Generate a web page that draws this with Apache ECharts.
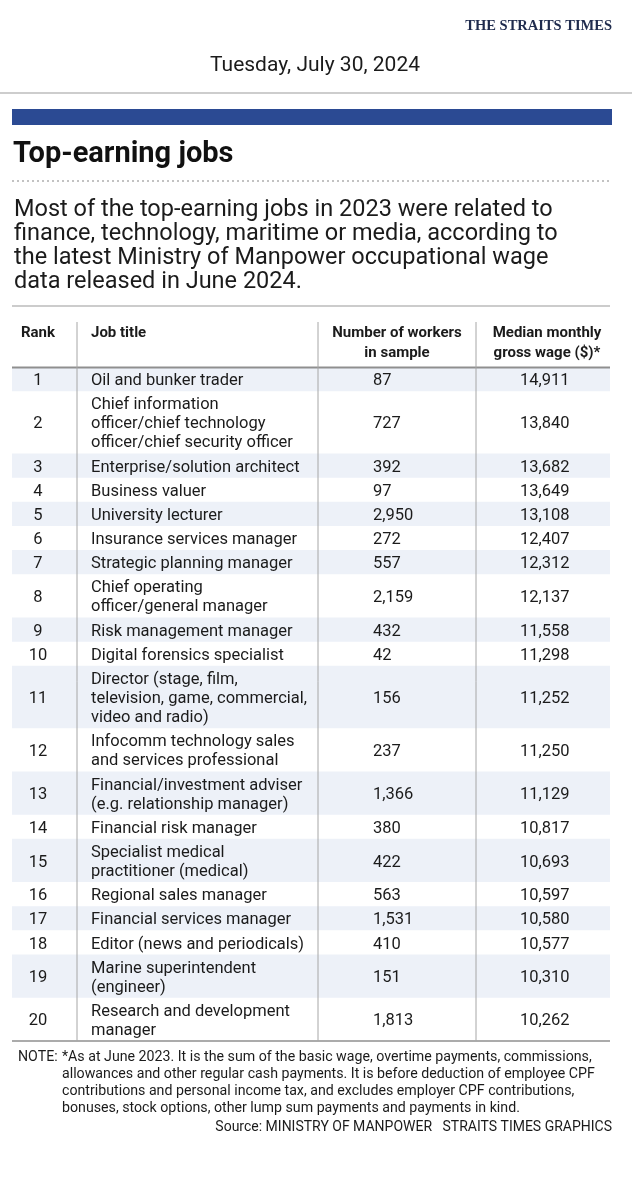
<!DOCTYPE html>
<html>
<head>
<meta charset="utf-8">
<script src="https://cdn.jsdelivr.net/npm/echarts@6/dist/echarts.min.js"></script>
<style>
html,body{margin:0;padding:0;background:#fff;}
#chart{width:632px;height:1183px;}
</style>
</head>
<body>
<div id="chart"></div>
<script>
// ---- Data ----
const ranks = ['1','2','3','4','5','6','7','8','9','10','11','12','13','14','15','16','17','18','19','20'];
const jobTitles = [
  'Oil and bunker trader',
  'Chief information\nofficer/chief technology\nofficer/chief security officer',
  'Enterprise/solution architect',
  'Business valuer',
  'University lecturer',
  'Insurance services manager',
  'Strategic planning manager',
  'Chief operating\nofficer/general manager',
  'Risk management manager',
  'Digital forensics specialist',
  'Director (stage, film,\ntelevision, game, commercial,\nvideo and radio)',
  'Infocomm technology sales\nand services professional',
  'Financial/investment adviser\n(e.g. relationship manager)',
  'Financial risk manager',
  'Specialist medical\npractitioner (medical)',
  'Regional sales manager',
  'Financial services manager',
  'Editor (news and periodicals)',
  'Marine superintendent\n(engineer)',
  'Research and development\nmanager'
];
const workers = [87, 727, 392, 97, 2950, 272, 557, 2159, 432, 42, 156, 237, 1366, 380, 422, 563, 1531, 410, 151, 1813];
const wages = [14911, 13840, 13682, 13649, 13108, 12407, 12312, 12137, 11558, 11298, 11252, 11250, 11129, 10817, 10693, 10597, 10580, 10577, 10310, 10262];
const headers = ['Rank', 'Job title', 'Number of workers\nin sample', 'Median monthly\ngross wage ($)*'];

const headline = 'Top-earning jobs';
const subtitle = 'Most of the top-earning jobs in 2023 were related to\nfinance, technology, maritime or media, according to\nthe latest Ministry of Manpower occupational wage\ndata released in June 2024.';
const noteText = '*As at June 2023. It is the sum of the basic wage, overtime payments, commissions,\nallowances and other regular cash payments. It is before deduction of employee CPF\ncontributions and personal income tax, and excludes employer CPF contributions,\nbonuses, stock options, other lump sum payments and payments in kind.';
const sourceText = 'Source: MINISTRY OF MANPOWER   STRAITS TIMES GRAPHICS';
const dateText = 'Tuesday, July 30, 2024';
const brandText = 'THE STRAITS TIMES';

// ---- Layout helpers (row extents derived from the number of text lines) ----
const LINE = 19, PAD = 5;
const rows = [];
let acc = 0;
jobTitles.forEach((t, i) => {
  const h = PAD + LINE * t.split('\n').length;
  rows.push([i, acc, acc + h]);
  acc += h;
});
const TOTAL = acc;
const XMAX = 598;
const COL = { rank: 26, title: 79, workers: 361, wage: 508 };

const FONT = 'Roboto, "Noto Sans", sans-serif';
const TXT = '#1b1b1b';

function renderItem(params, api) {
  const i = api.value(0);
  const p0 = api.coord([0, api.value(1)]);
  const p1 = api.coord([XMAX, api.value(2)]);
  const yc = (p0[1] + p1[1]) / 2 + 2;
  const children = [];
  if (i % 2 === 0) {
    children.push({ type: 'rect', shape: { x: p0[0], y: p0[1], width: p1[0] - p0[0], height: p1[1] - p0[1] }, style: { fill: '#edf1f8' } });
  }
  const base = { fill: TXT, fontFamily: FONT, fontSize: 16.5, verticalAlign: 'middle', lineHeight: LINE };
  children.push({ type: 'text', style: Object.assign({}, base, { text: ranks[i], x: api.coord([COL.rank, 0])[0], y: yc, align: 'center' }) });
  children.push({ type: 'text', style: Object.assign({}, base, { text: jobTitles[i], x: api.coord([COL.title, 0])[0], y: yc, align: 'left' }) });
  children.push({ type: 'text', style: Object.assign({}, base, { text: workers[i].toLocaleString('en-US'), x: api.coord([COL.workers, 0])[0], y: yc, align: 'left' }) });
  children.push({ type: 'text', style: Object.assign({}, base, { text: wages[i].toLocaleString('en-US'), x: api.coord([COL.wage, 0])[0], y: yc, align: 'left' }) });
  return { type: 'group', children: children };
}

const chart = echarts.init(document.getElementById('chart'), null, { renderer: 'canvas' });
const LINEC = '#a6a6a6';
const hdr = { fill: TXT, fontFamily: FONT, fontWeight: 'bold', fontSize: 15, lineHeight: 20 };

chart.setOption({
  backgroundColor: '#ffffff',
  animation: false,
  grid: { left: 12, right: 22, top: 367, bottom: 142 },
  xAxis: { type: 'value', min: 0, max: XMAX, show: false },
  yAxis: { type: 'value', min: 0, max: TOTAL, inverse: true, show: false },
  series: [{
    type: 'custom',
    renderItem: renderItem,
    data: rows,
    encode: { x: -1, y: [1, 2] },
    z: 2
  }],
  graphic: [
    { type: 'text', right: 20, top: 19, z: 10, style: { text: brandText, fill: '#1f2b4d', font: 'bold 14.5px "Liberation Serif", "DejaVu Serif", serif' } },
    { type: 'text', x: 315, y: 66, z: 10, style: { text: dateText, fill: TXT, fontFamily: FONT, fontSize: 21, align: 'center', verticalAlign: 'middle' } },
    { type: 'line', z: 10, shape: { x1: 0, y1: 93, x2: 632, y2: 93 }, style: { stroke: '#9c9c9c', lineWidth: 1.2 } },
    { type: 'rect', z: 10, shape: { x: 12, y: 109, width: 600, height: 16 }, style: { fill: '#2b4a93' } },
    { type: 'text', x: 13, y: 155, z: 10, style: { text: headline, fill: '#111', fontFamily: FONT, fontWeight: 'bold', fontSize: 29, verticalAlign: 'middle' } },
    { type: 'line', z: 10, shape: { x1: 12, y1: 181, x2: 610, y2: 181 }, style: { stroke: '#c2c2c2', lineWidth: 2, lineDash: [2, 3] } },
    { type: 'text', x: 14, y: 246, z: 10, style: { text: subtitle, fill: TXT, fontFamily: FONT, fontSize: 23.5, lineHeight: 24, verticalAlign: 'middle' } },
    { type: 'line', z: 10, shape: { x1: 12, y1: 306, x2: 610, y2: 306 }, style: { stroke: '#cccccc', lineWidth: 2 } },
    // column headers
    { type: 'text', x: 38, y: 333, z: 10, style: Object.assign({}, hdr, { text: headers[0], align: 'center', verticalAlign: 'middle' }) },
    { type: 'text', x: 91, y: 333, z: 10, style: Object.assign({}, hdr, { text: headers[1], align: 'left', verticalAlign: 'middle' }) },
    { type: 'text', x: 397, y: 343, z: 10, style: Object.assign({}, hdr, { text: headers[2], align: 'center', verticalAlign: 'middle' }) },
    { type: 'text', x: 547, y: 343, z: 10, style: Object.assign({}, hdr, { text: headers[3], align: 'center', verticalAlign: 'middle' }) },
    { type: 'line', z: 10, shape: { x1: 12, y1: 367.5, x2: 610, y2: 367.5 }, style: { stroke: '#8f8f8f', lineWidth: 2 } },
    { type: 'line', z: 10, shape: { x1: 12, y1: 1041, x2: 610, y2: 1041 }, style: { stroke: '#8f8f8f', lineWidth: 1.5 } },
    { type: 'line', z: 10, shape: { x1: 77, y1: 322, x2: 77, y2: 1041 }, style: { stroke: LINEC, lineWidth: 1 } },
    { type: 'line', z: 10, shape: { x1: 318, y1: 322, x2: 318, y2: 1041 }, style: { stroke: LINEC, lineWidth: 1 } },
    { type: 'line', z: 10, shape: { x1: 476, y1: 322, x2: 476, y2: 1041 }, style: { stroke: LINEC, lineWidth: 1 } },
    // note and source
    { type: 'text', x: 18, y: 1049, z: 10, style: { text: 'NOTE:', fill: TXT, fontFamily: FONT, fontSize: 14.2, lineHeight: 17 } },
    { type: 'text', x: 62, y: 1049, z: 10, style: { text: noteText, fill: TXT, fontFamily: FONT, fontSize: 14.2, lineHeight: 17 } },
    { type: 'text', right: 20, top: 1120, z: 10, style: { text: sourceText, fill: TXT, fontFamily: FONT, fontSize: 14 } }
  ]
});
</script>
</body>
</html>
